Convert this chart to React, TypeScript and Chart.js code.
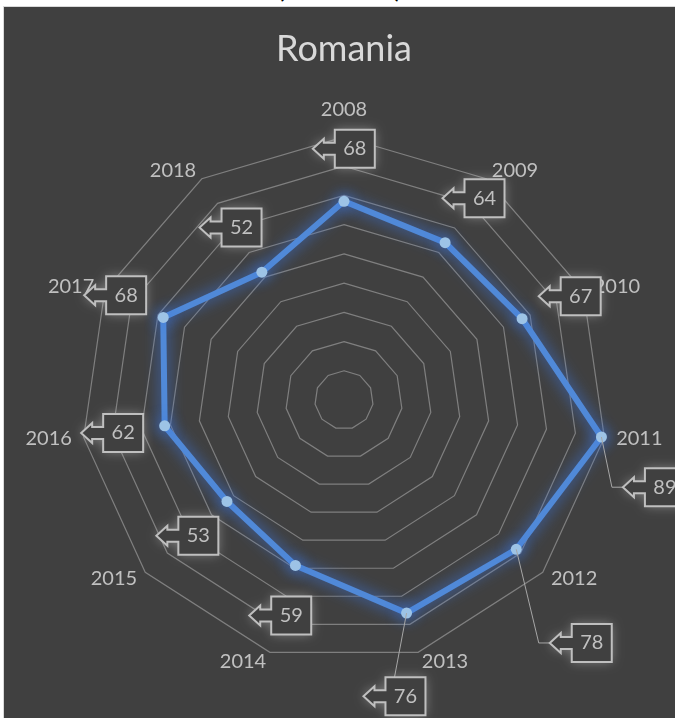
import React, { useEffect, useRef } from 'react';
import { Chart, registerables } from 'chart.js';

Chart.register(...registerables);

// ---- data ----
const categories = ['2008', '2009', '2010', '2011', '2012', '2013', '2014', '2015', '2016', '2017', '2018'];
const values = [68, 64, 67, 89, 78, 76, 59, 53, 62, 68, 52];
const scaleMin = 0;
const scaleMax = 90;
const scaleStep = 10;
const chartTitle = 'Romania';
const topCaption = '(2008-2018)';

// ---- label layout (callout box centre offset from its point, in px) ----
const calloutOffsets: [number, number][] = [
  [10.8, -52.5], [39.4, -44.4], [58.6, -22.5], [63.5, 50.2], [75.5, 93.7], [-1.1, 83.2],
  [-4.2, 50.1], [-28.6, 34.4], [-41.5, 7.2], [-37.1, -22.2], [-20.3, -44.6],
];
const leaderKinds: (null | 'tip' | 'top')[] = [null, null, null, 'tip', 'tip', 'top', null, null, null, null, null];

const FONT = 'Lato, "Open Sans", sans-serif';
const BG = '#404040';
const LABEL_COLOR = '#c0c0c0';

const categoryLabelPlugin = {
  id: 'categoryLabels',
  beforeDatasetsDraw(chart: any) {
    const scale = chart.scales.r;
    const ctx = chart.ctx;
    const R = scale.drawingArea;
    ctx.save();
    ctx.font = `20px ${FONT}`;
    ctx.fillStyle = LABEL_COLOR;
    ctx.textBaseline = 'middle';
    categories.forEach((c, i) => {
      const a = scale.getIndexAngle(i);
      const s = Math.sin(a);
      const co = Math.cos(a);
      const v = scale.getPointPosition(i, R);
      if (Math.abs(s) < 0.1) {
        ctx.textAlign = 'center';
        ctx.fillText(c, v.x, v.y - Math.sign(co) * 27);
      } else {
        const gap = 3 + 9 * s * s;
        ctx.textAlign = s > 0 ? 'left' : 'right';
        ctx.fillText(c, v.x + Math.sign(s) * gap, v.y - co * 10);
      }
    });
    ctx.restore();
  },
};

const glowPlugin = {
  id: 'lineGlow',
  beforeDatasetDraw(chart: any) {
    const ctx = chart.ctx;
    ctx.save();
    ctx.shadowColor = 'rgba(60,120,230,0.95)';
    ctx.shadowBlur = 15;
  },
  afterDatasetDraw(chart: any) {
    chart.ctx.restore();
  },
};

function calloutPath(ctx: CanvasRenderingContext2D, cx: number, cy: number) {
  const w = 40, h = 38;
  const left = cx - w / 2, right = cx + w / 2, top = cy - h / 2, bottom = cy + h / 2;
  const stemL = 11, stemH = 6, headL = 11, headH = 10;
  ctx.beginPath();
  ctx.moveTo(left, top);
  ctx.lineTo(right, top);
  ctx.lineTo(right, bottom);
  ctx.lineTo(left, bottom);
  ctx.lineTo(left, cy + stemH);
  ctx.lineTo(left - stemL, cy + stemH);
  ctx.lineTo(left - stemL, cy + headH);
  ctx.lineTo(left - stemL - headL, cy);
  ctx.lineTo(left - stemL, cy - headH);
  ctx.lineTo(left - stemL, cy - stemH);
  ctx.lineTo(left, cy - stemH);
  ctx.closePath();
}

const calloutPlugin = {
  id: 'callouts',
  afterDatasetsDraw(chart: any) {
    const ctx = chart.ctx;
    const meta = chart.getDatasetMeta(0);
    ctx.save();
    meta.data.forEach((pt: any, i: number) => {
      const [dx, dy] = calloutOffsets[i];
      const cx = pt.x + dx;
      const cy = pt.y + dy;
      const w = 40, h = 38;
      const left = cx - w / 2, top = cy - h / 2;
      const tipX = left - 22;
      const kind = leaderKinds[i];
      if (kind) {
        ctx.save();
        ctx.strokeStyle = '#a6a6a6';
        ctx.lineWidth = 1;
        ctx.beginPath();
        ctx.moveTo(pt.x, pt.y);
        if (kind === 'tip') {
          ctx.lineTo(tipX - 11, cy);
          ctx.lineTo(tipX, cy);
        } else {
          ctx.lineTo(left + 9, top);
        }
        ctx.stroke();
        ctx.restore();
      }
      ctx.save();
      ctx.shadowColor = 'rgba(255,255,255,0.35)';
      ctx.shadowBlur = 12;
      calloutPath(ctx, cx, cy);
      ctx.fillStyle = BG;
      ctx.fill();
      ctx.restore();
      calloutPath(ctx, cx, cy);
      ctx.strokeStyle = '#bfbfbf';
      ctx.lineWidth = 2;
      ctx.lineJoin = 'miter';
      ctx.stroke();
      ctx.font = `20px ${FONT}`;
      ctx.fillStyle = LABEL_COLOR;
      ctx.textAlign = 'center';
      ctx.textBaseline = 'middle';
      ctx.fillText(String(values[i]), cx, cy);
    });
    ctx.restore();
  },
};

export default function App() {
  const ref = useRef<HTMLCanvasElement | null>(null);

  useEffect(() => {
    if (!ref.current) return;
    const chart = new Chart(ref.current, {
      type: 'radar',
      data: {
        labels: categories,
        datasets: [
          {
            label: chartTitle,
            data: values,
            borderColor: '#5089d8',
            borderWidth: 6,
            backgroundColor: 'transparent',
            fill: false,
            pointRadius: 5.5,
            pointBackgroundColor: '#9dc3e6',
            pointBorderColor: '#9dc3e6',
            pointBorderWidth: 0,
            tension: 0,
          },
        ],
      },
      options: {
        responsive: false,
        animation: false,
        devicePixelRatio: 1,
        layout: { padding: { left: 77, right: 68, top: 0, bottom: 55 } },
        plugins: {
          legend: { display: false },
          tooltip: { enabled: false },
          title: {
            display: true,
            text: chartTitle,
            color: '#d9d9d9',
            fullSize: false,
            font: { family: FONT, size: 36, weight: 'normal' },
            padding: { top: 21.2, bottom: 65.6 },
          },
        },
        scales: {
          r: {
            min: scaleMin,
            max: scaleMax,
            ticks: { display: false, stepSize: scaleStep },
            angleLines: { display: false },
            grid: { color: '#7f7f7f', lineWidth: 1.2, circular: false },
            pointLabels: { display: false },
          },
        },
      },
      plugins: [categoryLabelPlugin, glowPlugin, calloutPlugin],
    } as any);
    return () => chart.destroy();
  }, []);

  return (
    <div
      style={{
        position: 'fixed',
        left: 0,
        top: 0,
        width: 675,
        height: 718,
        background: '#ffffff',
        overflow: 'hidden',
      }}
    >
      <div
        style={{
          position: 'absolute',
          left: 0,
          top: -21,
          width: 679,
          textAlign: 'center',
          fontFamily: FONT,
          fontWeight: 'bold',
          fontSize: 22,
          lineHeight: '22px',
          color: '#000',
        }}
      >
        {topCaption}
      </div>
      <div
        style={{
          position: 'absolute',
          left: 3,
          top: 6,
          width: 672,
          height: 712,
          borderLeft: '1px solid #d9d9d9',
          borderTop: '1px solid #d9d9d9',
          boxSizing: 'border-box',
          background: BG,
        }}
      >
        <canvas
          ref={ref}
          width={671}
          height={711}
          style={{ display: 'block', width: 671, height: 711, background: BG }}
        />
      </div>
    </div>
  );
}
